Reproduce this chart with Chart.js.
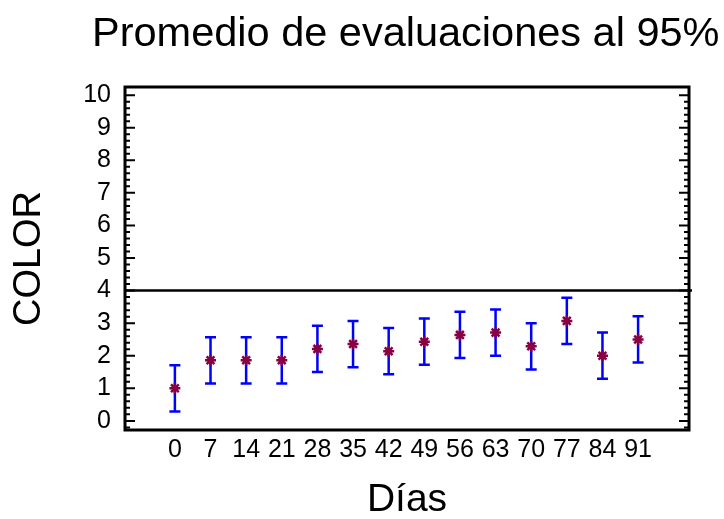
<!DOCTYPE html>
<html>
<head>
<meta charset="utf-8">
<script src="https://cdn.jsdelivr.net/npm/chart.js@4"></script>
<style>
  html, body { margin: 0; padding: 0; background: #fff; }
  #wrap { width: 724px; height: 519px; }
</style>
</head>
<body>
<div id="wrap"><canvas id="c" width="724" height="519"></canvas></div>
<script>
// Storage day of each evaluation
const days = [0, 7, 14, 21, 28, 35, 42, 49, 56, 63, 70, 77, 84, 91];
// Mean COLOR score per day
const means = [1.00, 1.86, 1.86, 1.86, 2.21, 2.36, 2.14, 2.43, 2.64, 2.71, 2.29, 3.07, 2.00, 2.50];
// 95% interval limits per day
const lower = [0.29, 1.15, 1.15, 1.15, 1.50, 1.65, 1.43, 1.72, 1.93, 2.00, 1.58, 2.36, 1.29, 1.79];
const upper = [1.71, 2.57, 2.57, 2.57, 2.92, 3.07, 2.85, 3.14, 3.35, 3.42, 3.00, 3.78, 2.71, 3.21];
// Y axis tick labels
const yTicks = [0, 1, 2, 3, 4, 5, 6, 7, 8, 9, 10];
// Reference level drawn across the plot
const referenceLevel = 4;

const titleText = 'Promedio de evaluaciones al 95%';
const FONT = '"Liberation Sans", Arial, Helvetica, sans-serif';
Chart.defaults.font.family = FONT;
Chart.defaults.color = '#000';

const decorations = {
  id: 'decorations',
  beforeDatasetsDraw(chart) {
    const { ctx, scales: { x, y } } = chart;
    ctx.save();
    // error bars
    ctx.strokeStyle = '#0000ff';
    ctx.lineWidth = 2.5;
    ctx.lineCap = 'butt';
    for (let i = 0; i < days.length; i++) {
      const px = x.getPixelForValue(days[i]);
      const pLo = y.getPixelForValue(lower[i]);
      const pHi = y.getPixelForValue(upper[i]);
      ctx.beginPath();
      ctx.moveTo(px, pLo); ctx.lineTo(px, pHi);
      ctx.moveTo(px - 5.5, pLo); ctx.lineTo(px + 5.5, pLo);
      ctx.moveTo(px - 5.5, pHi); ctx.lineTo(px + 5.5, pHi);
      ctx.stroke();
    }
    ctx.restore();
  },
  afterDraw(chart) {
    const { ctx, chartArea: a, scales: { y } } = chart;
    ctx.save();
    // reference line
    const ry = y.getPixelForValue(referenceLevel);
    ctx.strokeStyle = '#000';
    ctx.lineWidth = 2.5;
    ctx.beginPath();
    ctx.moveTo(a.left, ry); ctx.lineTo(a.right + 3, ry);
    ctx.stroke();
    // inward ticks on both vertical sides
    ctx.lineWidth = 2;
    for (let k = -1; k <= 50; k++) {
      const v = k * 0.2;
      const py = y.getPixelForValue(v);
      if (py < a.top + 2 || py > a.bottom - 2) continue;
      const len = (k % 5 === 0) ? 10 : 5;
      ctx.beginPath();
      ctx.moveTo(a.left, py); ctx.lineTo(a.left + len, py);
      ctx.moveTo(a.right, py); ctx.lineTo(a.right - len, py);
      ctx.stroke();
    }
    // frame
    ctx.lineWidth = 3;
    ctx.strokeRect(a.left, a.top, a.right - a.left, a.bottom - a.top);
    // title
    ctx.fillStyle = '#000';
    ctx.font = '41.5px ' + FONT;
    ctx.textAlign = 'left';
    ctx.textBaseline = 'alphabetic';
    ctx.fillText(titleText, 92, 46);
    ctx.restore();
  }
};

new Chart(document.getElementById('c'), {
  type: 'scatter',
  data: {
    datasets: [{
      data: days.map((d, i) => ({ x: d, y: means[i] })),
      pointStyle: 'star',
      radius: 5.5,
      hoverRadius: 5.5,
      borderWidth: 2.5,
      borderColor: '#880044',
      backgroundColor: '#880044'
    }]
  },
  options: {
    responsive: false,
    animation: false,
    events: [],
    layout: { padding: { top: 87, right: 35, left: 0, bottom: 0 } },
    plugins: { legend: { display: false }, title: { display: false }, tooltip: { enabled: false } },
    scales: {
      x: {
        type: 'linear',
        min: -9.8,
        max: 101,
        grid: { display: false, drawTicks: false },
        border: { display: false },
        afterBuildTicks(scale) { scale.ticks = days.map(v => ({ value: v })); },
        afterFit(scale) { scale.height = 89; },
        ticks: {
          autoSkip: false, maxRotation: 0, padding: 5,
          font: { size: 25 }, color: '#000',
          callback: v => String(v)
        },
        title: { display: true, text: 'Días', font: { size: 39 }, color: '#000', padding: { top: 0, bottom: -5 } }
      },
      y: {
        type: 'linear',
        min: -0.28,
        max: 10.25,
        grid: { display: false, drawTicks: false },
        border: { display: false },
        afterBuildTicks(scale) { scale.ticks = yTicks.map(v => ({ value: v })); },
        afterFit(scale) { scale.width = 125; },
        ticks: {
          autoSkip: false, padding: 14,
          font: { size: 25 }, color: '#000',
          callback: v => String(v)
        },
        title: { display: true, text: 'COLOR', font: { size: 38 }, color: '#000', padding: { top: 7, bottom: 0 } }
      }
    }
  },
  plugins: [decorations]
});
</script>
</body>
</html>
